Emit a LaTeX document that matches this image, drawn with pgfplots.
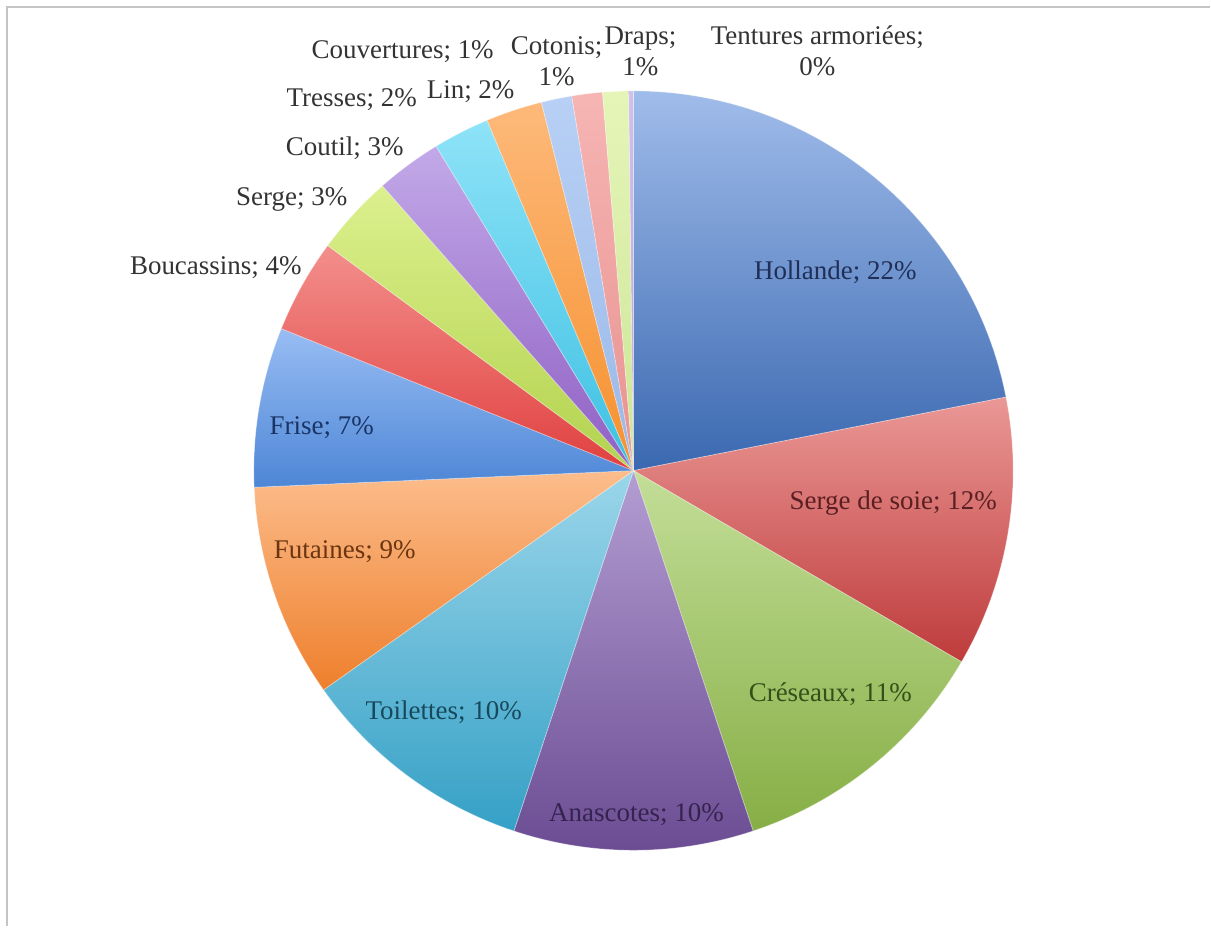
\documentclass[border=0pt]{standalone}
\usepackage{fontspec}
\setmainfont{Liberation Serif}
\usepackage{pgfplots}
\usepackage{pgfplotstable}
\pgfplotsset{compat=1.18}

\definecolor{holA}{HTML}{A0BCEA}\definecolor{holB}{HTML}{3A68B0}
\definecolor{sdsA}{HTML}{EA9896}\definecolor{sdsB}{HTML}{BE3B3B}
\definecolor{creA}{HTML}{C3DE98}\definecolor{creB}{HTML}{86AE45}
\definecolor{anaA}{HTML}{B39DD2}\definecolor{anaB}{HTML}{6A4B92}
\definecolor{toiA}{HTML}{9BD6EA}\definecolor{toiB}{HTML}{35A0C6}
\definecolor{futA}{HTML}{FCBD8C}\definecolor{futB}{HTML}{EE7F2C}
\definecolor{friA}{HTML}{98BDF3}\definecolor{friB}{HTML}{4D86D6}
\definecolor{bouA}{HTML}{F38F8C}\definecolor{bouB}{HTML}{E0403F}
\definecolor{serA}{HTML}{DCF08E}\definecolor{serB}{HTML}{B2D24D}
\definecolor{couA}{HTML}{C2A9E8}\definecolor{couB}{HTML}{8F5FC3}
\definecolor{treA}{HTML}{8EE3F8}\definecolor{treB}{HTML}{3DC0E2}
\definecolor{linA}{HTML}{FDB97A}\definecolor{linB}{HTML}{F6902E}
\definecolor{cvrA}{HTML}{B8D0F5}\definecolor{cvrB}{HTML}{9AB8E8}
\definecolor{cotA}{HTML}{F6B5B3}\definecolor{cotB}{HTML}{E89290}
\definecolor{draA}{HTML}{E5F5B8}\definecolor{draB}{HTML}{CCE596}
\definecolor{tenA}{HTML}{D0C0EA}\definecolor{tenB}{HTML}{B8A0D8}

\definecolor{lHol}{HTML}{1F2F58}
\definecolor{lSds}{HTML}{5A1F22}
\definecolor{lCre}{HTML}{34501A}
\definecolor{lAna}{HTML}{35234F}
\definecolor{lToi}{HTML}{17485C}
\definecolor{lFut}{HTML}{6B3510}
\definecolor{lFri}{HTML}{1A3466}
\definecolor{lOut}{HTML}{333333}
\definecolor{frameC}{HTML}{C4C4C4}

\pgfplotstableread{
pct  ca   cb
21.9 holA holB
11.5 sdsA sdsB
11.5 creA creB
10.2 anaA anaB
10.1 toiA toiB
9.1  futA futB
6.8  friA friB
4.0  bouA bouB
3.4  serA serB
2.8  couA couB
2.4  treA treB
2.4  linA linB
1.3  cvrA cvrB
1.3  cotA cotB
1.1  draA draB
0.2  tenA tenB
}\pietable

\begin{document}
\begin{tikzpicture}[every node/.style={font=\fontsize{13.5}{15.5}\selectfont}]
\begin{axis}[x=0.5pt,y=0.5pt,xmin=0,xmax=1211,ymin=0,ymax=927,
  hide axis,clip=false]
\path (axis cs:0,0) rectangle (axis cs:1211,927);
\draw[frameC,line width=1pt] (axis cs:7,0) -- (axis cs:7,919.5) -- (axis cs:1211,919.5);

\def\astart{90}
\pgfplotstablegetrowsof{\pietable}
\pgfmathtruncatemacro\nrows{\pgfplotsretval-1}
\pgfplotsforeachungrouped \i in {0,...,\nrows}{%
  \pgfplotstablegetelem{\i}{pct}\of\pietable \let\p=\pgfplotsretval
  \pgfplotstablegetelem{\i}{ca}\of\pietable \let\ca=\pgfplotsretval
  \pgfplotstablegetelem{\i}{cb}\of\pietable \let\cb=\pgfplotsretval
  \pgfmathsetmacro\aend{\astart-3.6*\p}%
  \edef\temp{\noexpand\shade[top color=\ca,bottom color=\cb,draw=white,draw opacity=0.35,line width=0.4pt]
    (axis cs:634,456) -- ++(\astart:190pt) arc[start angle=\astart,end angle=\aend,radius=190pt] -- cycle;}%
  \temp
  \let\astart=\aend
}

\node[text=lHol] at (axis cs:836,655) {Hollande; 22\%};
\node[text=lSds] at (axis cs:894,424) {Serge de soie; 12\%};
\node[text=lCre] at (axis cs:831,232) {Créseaux; 11\%};
\node[text=lAna] at (axis cs:637,112) {Anascotes; 10\%};
\node[text=lToi] at (axis cs:444,214) {Toilettes; 10\%};
\node[text=lFut] at (axis cs:345,375) {Futaines; 9\%};
\node[text=lFri] at (axis cs:322,499) {Frise; 7\%};
\node[text=lOut] at (axis cs:216,659) {Boucassins; 4\%};
\node[text=lOut] at (axis cs:292,727) {Serge; 3\%};
\node[text=lOut] at (axis cs:345,779) {Coutil; 3\%};
\node[text=lOut] at (axis cs:352,827) {Tresses; 2\%};
\node[text=lOut] at (axis cs:471,835) {Lin; 2\%};
\node[text=lOut] at (axis cs:403,875) {Couvertures; 1\%};
\node[text=lOut,align=center] at (axis cs:557,866) {Cotonis;\\1\%};
\node[text=lOut,align=center] at (axis cs:641,876) {Draps;\\1\%};
\node[text=lOut,align=center] at (axis cs:818,876) {Tentures armoriées;\\0\%};
\end{axis}
\end{tikzpicture}
\end{document}
